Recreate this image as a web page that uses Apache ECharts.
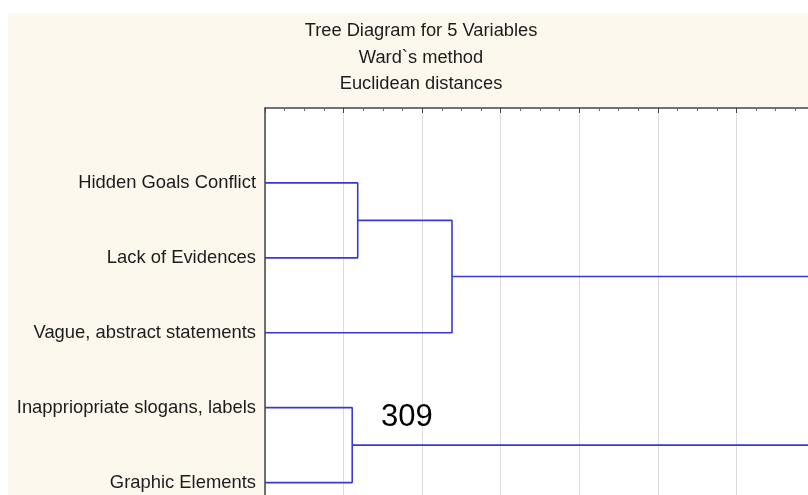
<!DOCTYPE html>
<html>
<head>
<meta charset="utf-8">
<script src="https://cdn.jsdelivr.net/npm/echarts@6/dist/echarts.min.js"></script>
<style>
  html, body { margin: 0; padding: 0; background: #fff; }
  #paper { position: absolute; left: 8px; top: 13px; width: 800px; height: 482px; background: #fcf8ed; }
  #chart { position: absolute; left: 0; top: 0; width: 808px; height: 495px; }
</style>
</head>
<body>
<div id="paper"></div>
<div id="chart"></div>
<script>
// leaves, top to bottom
const leafNames = [
    "Hidden Goals Conflict",
    "Lack of Evidences",
    "Vague, abstract statements",
    "Inappriopriate slogans, labels",
    "Graphic Elements",
];
// merges: [nodeA, nodeB, linkage distance]; nodes 0-4 are leaves, 5+ are earlier merges
const merges = [
    [0, 1, 1.18],
    [5, 2, 2.38],
    [3, 4, 1.11],
    [6, 7, 7.6],
];
const titleLines = ["Tree Diagram for 5 Variables", "Ward`s method", "Euclidean distances"];
const noteText = "309";

const chart = echarts.init(document.getElementById("chart"), null, { renderer: "canvas" });

// node positions: [distance, y]
const nodes = leafNames.map((_, i) => [0, i]);
const series = [];
merges.forEach(([a, b, h]) => {
    const pa = nodes[a];
    const pb = nodes[b];
    series.push({
        type: "line",
        data: [[pa[0], pa[1]], [h, pa[1]], [h, pb[1]], [pb[0], pb[1]]],
        symbol: "none",
        clip: true,
        lineStyle: { color: "#3838d8", width: 1.6 },
        silent: true,
        z: 3,
    });
    nodes.push([h, (pa[1] + pb[1]) / 2]);
});

const option = {
    backgroundColor: "transparent",
    animation: false,
    textStyle: { fontFamily: "Liberation Sans, Arial, sans-serif" },
    graphic: [
        ...titleLines.map((t, i) => ({
            type: "text",
            x: 421,
            y: 31 + i * 26.5,
            style: {
                text: t,
                fill: "#1c1c1c",
                font: "18.3px 'Liberation Sans', Arial, sans-serif",
                textAlign: "center",
                textVerticalAlign: "middle",
            },
        })),
        {
            type: "text",
            x: 381,
            y: 417,
            z: 10,
            style: {
                text: noteText,
                fill: "#000",
                font: "31px 'Liberation Sans', Arial, sans-serif",
                textAlign: "left",
                textVerticalAlign: "middle",
            },
        },
    ],
    grid: {
        left: 265,
        top: 108,
        width: 550,
        height: 449.5,
        outerBoundsMode: "none",
        containLabel: false,
        show: true,
        backgroundColor: "#fff",
        borderWidth: 0,
    },
    xAxis: {
        type: "value",
        position: "top",
        min: 0,
        max: 7,
        interval: 1,
        axisLine: { show: true, onZero: false, lineStyle: { color: "#444", width: 1.5 } },
        axisTick: { show: true, inside: true, length: 5, lineStyle: { color: "#444" } },
        minorTick: { show: true, splitNumber: 4, length: 3, lineStyle: { color: "#666" } },
        axisLabel: { show: false },
        splitLine: { show: true, lineStyle: { color: "#dcdcdc", width: 1 } },
    },
    yAxis: {
        type: "value",
        inverse: true,
        min: -1,
        max: 5,
        interval: 1,
        axisLine: { show: true, onZero: false, lineStyle: { color: "#444", width: 1.5 } },
        axisTick: { show: false },
        splitLine: { show: false },
        axisLabel: {
            color: "#1c1c1c",
            fontSize: 18.4,
            margin: 9,
            formatter: (v) => leafNames[v] || "",
        },
    },
    series: series,
};

chart.setOption(option);
</script>
</body>
</html>
